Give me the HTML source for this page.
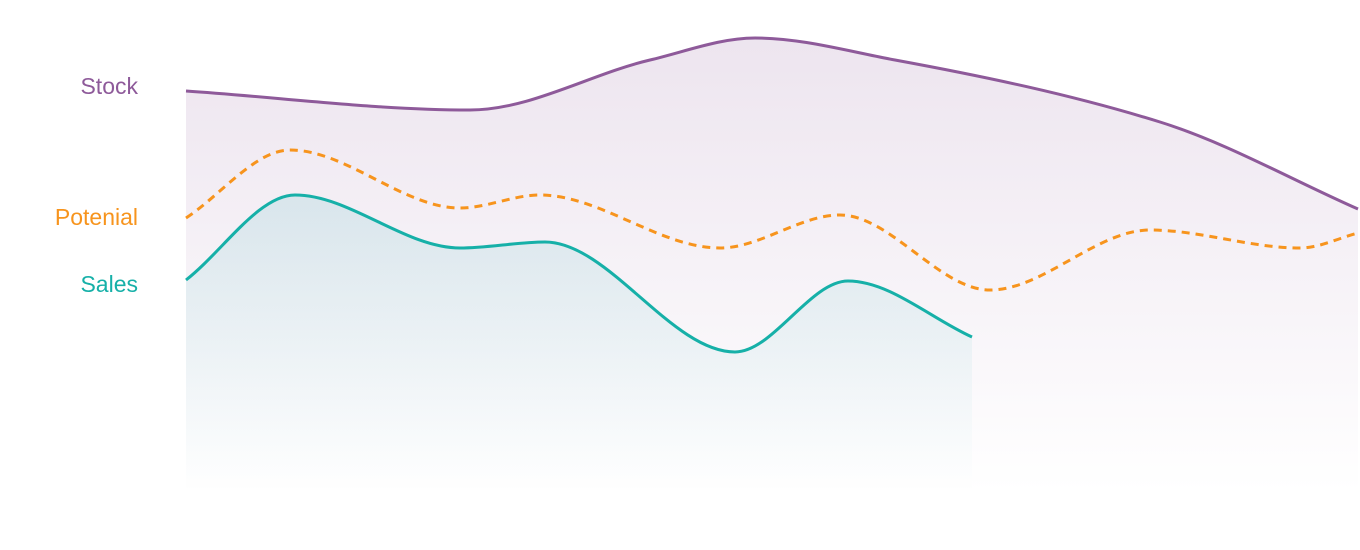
<!DOCTYPE html>
<html><head><meta charset="utf-8"><style>
html,body{margin:0;padding:0;background:#fff;width:1360px;height:550px;overflow:hidden}
svg{display:block}
text{font-family:"Liberation Sans",sans-serif;font-size:23px}
</style></head><body>
<svg id="chart" width="1360" height="550" viewBox="0 0 1360 550">
<defs>
<linearGradient id="gStock" x1="0" y1="0" x2="0" y2="1">
<stop offset="0" stop-color="#8e5a9a" stop-opacity="0.16"/>
<stop offset="1" stop-color="#8e5a9a" stop-opacity="0"/>
</linearGradient>
<linearGradient id="gSales" x1="0" y1="0" x2="0" y2="1">
<stop offset="0" stop-color="#16a8ac" stop-opacity="0.12"/>
<stop offset="1" stop-color="#16a8ac" stop-opacity="0"/>
</linearGradient>
</defs>
<text x="138" y="94" text-anchor="end" fill="#8e5a9a">Stock</text>
<text x="138" y="225" text-anchor="end" fill="#f7941d">Potenial</text>
<text x="138" y="292" text-anchor="end" fill="#16b0a8">Sales</text>
</svg>
<script>
const stockX=[0,284,464,569,709,974,1172];
const stockV=[402,383,433,455,433,371,284];
const potX=[0,104,274,354,534,654,804,964,1114,1172];
const potV=[275,343,285,298,245,278,203,263,245,260];
const salesX=[0,109,274,359,549,662,786];
const salesV=[213,298,245,251,141,212,156];

const X0=186,Y0=493;
const sx=v=>X0+v, sy=v=>Y0-v;
const svg=document.getElementById('chart');
const NS='http://www.w3.org/2000/svg';
function pathD(xs,vs){
  const p=xs.map((x,i)=>[sx(x),sy(vs[i])]);
  const n=p.length,m=[],s=[];
  for(let i=0;i<n-1;i++) s.push((p[i+1][1]-p[i][1])/(p[i+1][0]-p[i][0]));
  for(let i=0;i<n;i++){
    if(i===0) m.push(s[0]);
    else if(i===n-1) m.push(s[n-2]);
    else if(s[i-1]*s[i]<=0) m.push(0);
    else {const h0=p[i][0]-p[i-1][0],h1=p[i+1][0]-p[i][0];
      m.push(3*(h0+h1)/((2*h1+h0)/s[i-1]+(h1+2*h0)/s[i]));}
  }
  let d='M'+p[0][0]+','+p[0][1];
  for(let i=0;i<n-1;i++){
    const h=(p[i+1][0]-p[i][0])/3;
    d+=` C${p[i][0]+h},${p[i][1]+m[i]*h} ${p[i+1][0]-h},${p[i+1][1]-m[i+1]*h} ${p[i+1][0]},${p[i+1][1]}`;
  }
  return {d,p};
}
function area(xs,vs,fill,name){
  const {d,p}=pathD(xs,vs);
  const a=document.createElementNS(NS,'path');
  a.setAttribute('d',d+` L${p[p.length-1][0]},${Y0} L${p[0][0]},${Y0} Z`);
  a.setAttribute('fill',fill);
  
  
  svg.insertBefore(a,svg.firstChild.nextSibling);
}
function line(xs,vs,color,dash,name){
  const {d}=pathD(xs,vs);
  const l=document.createElementNS(NS,'path');
  l.setAttribute('d',d);l.setAttribute('fill','none');
  l.setAttribute('stroke',color);l.setAttribute('stroke-width','3');
  if(dash)l.setAttribute('stroke-dasharray',dash);
  
  
  svg.appendChild(l);
}
area(salesX,salesV,'url(#gSales)','sales-area');
area(stockX,stockV,'url(#gStock)','stock-area');
line(stockX,stockV,'#8e5a9a',null,'stock-line');
line(potX,potV,'#f7941d','8 6','potential-line');
line(salesX,salesV,'#16b0a8',null,'sales-line');
</script>
</body></html>
